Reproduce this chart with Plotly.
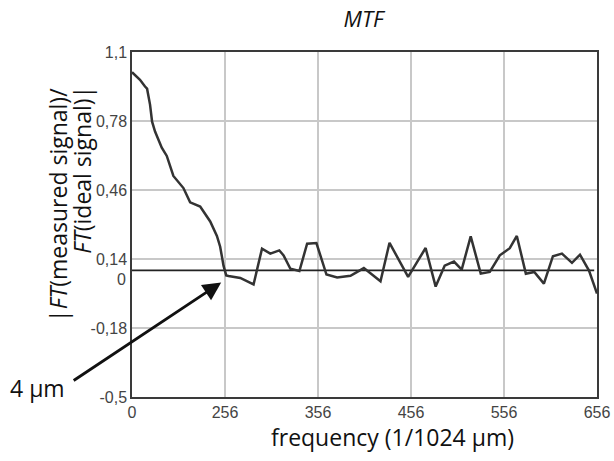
import plotly.graph_objects as go

# x positions are in tick-slot units (the axis labels are evenly spaced: 0, 256, 356, ...)
x_tick_labels = ['0', '256', '356', '456', '556', '656']
x_tick_pos = [0, 1, 2, 3, 4, 5]

y_tick_vals = [1.1, 0.78, 0.46, 0.14, -0.18, -0.5]
y_tick_text = ['1,1', '0,78', '0,46', '0,14', '-0,18', '-0,5']
zero_label_y = 0.045

freq_pos = [0.0, 0.032, 0.086, 0.140, 0.162, 0.194, 0.216, 0.248, 0.320, 0.374,
            0.445, 0.553, 0.625, 0.733, 0.841, 0.913, 0.948, 0.967, 0.984, 1.013,
            1.038, 1.164, 1.253, 1.307, 1.398, 1.487, 1.584, 1.630, 1.703, 1.800,
            1.883, 1.983, 2.091, 2.206, 2.349, 2.493, 2.672, 2.769, 2.969, 3.157,
            3.265, 3.362, 3.462, 3.545, 3.642, 3.750, 3.847, 3.955, 4.062, 4.138,
            4.235, 4.325, 4.429, 4.526, 4.623, 4.731, 4.817, 4.914, 5.0]
mtf = [1.006, 0.994, 0.971, 0.940, 0.930, 0.856, 0.777, 0.731, 0.656, 0.618,
       0.525, 0.469, 0.403, 0.383, 0.314, 0.247, 0.197, 0.151, 0.109, 0.064,
       0.061, 0.052, 0.035, 0.022, 0.188, 0.165, 0.180, 0.157, 0.095, 0.084,
       0.211, 0.214, 0.068, 0.054, 0.062, 0.098, 0.037, 0.215, 0.057, 0.191,
       0.012, 0.109, 0.128, 0.091, 0.245, 0.072, 0.080, 0.157, 0.190, 0.247,
       0.072, 0.080, 0.026, 0.153, 0.165, 0.122, 0.160, 0.086, -0.020]

baseline_x = [0, 4.97]
baseline_y = [0.0875, 0.0875]

fig = go.Figure()
fig.add_trace(go.Scatter(x=baseline_x, y=baseline_y, mode='lines',
                         line=dict(color='#222222', width=1.8), hoverinfo='skip'))
fig.add_trace(go.Scatter(x=freq_pos, y=mtf, mode='lines',
                         line=dict(color='#333333', width=2.5)))

tick_font = dict(family='Liberation Sans, Arial', size=16, color='#444444')
label_font = dict(family='Open Sans', size=23, color='#111111')

fig.update_layout(
    width=614, height=461,
    margin=dict(l=132, r=17, t=52, b=64),
    paper_bgcolor='white', plot_bgcolor='white',
    showlegend=False,
    title=dict(text='<i>MTF</i>', x=0.592, xanchor='center', y=0.958, yanchor='middle',
               font=dict(family='Open Sans', size=22, color='#111111')),
    xaxis=dict(range=[0, 5], tickvals=x_tick_pos, ticktext=x_tick_labels,
               showgrid=True, gridcolor='#c8c8c8', gridwidth=1.5,
               showline=True, linecolor='#3a3a3a', linewidth=1.5, mirror=True,
               zeroline=False, ticks='', tickfont=tick_font, automargin=False),
    yaxis=dict(range=[-0.5, 1.1], tickvals=y_tick_vals, ticktext=y_tick_text,
               showgrid=True, gridcolor='#c8c8c8', gridwidth=1.5,
               showline=True, linecolor='#3a3a3a', linewidth=1.5, mirror=True,
               zeroline=False, ticks='', tickfont=tick_font, automargin=False),
)

fig.add_annotation(text='0', xref='paper', yref='y', x=0, y=zero_label_y,
                   xanchor='right', xshift=-4, showarrow=False, font=tick_font)

fig.add_annotation(text='frequency (1/1024 \u03bcm)', xref='paper', yref='paper',
                   x=0.561, y=-0.116, xanchor='center', yanchor='middle',
                   showarrow=False, font=label_font)

# y-axis title, two rotated lines
fig.add_annotation(text='|<i>FT</i>(measured signal)/',
                   xref='paper', yref='paper', x=-0.159, y=0.557,
                   xanchor='center', yanchor='middle', textangle=-90,
                   showarrow=False, font=label_font)
fig.add_annotation(text='<i>FT</i>(ideal signal)|',
                   xref='paper', yref='paper', x=-0.108, y=0.658,
                   xanchor='center', yanchor='middle', textangle=-90,
                   showarrow=False, font=label_font)

fig.add_annotation(text='4 \u03bcm', xref='paper', yref='paper', x=-0.204, y=0.026,
                   xanchor='center', yanchor='middle', showarrow=False, font=label_font)

fig.add_annotation(text='', xref='x', yref='y', x=0.959, y=0.031,
                   ax=-149, ay=99, showarrow=True, arrowhead=2, arrowsize=1.3,
                   arrowwidth=2.8, arrowcolor='#111111')

fig.write_html('out.html', config={'displayModeBar': False},
               post_script="document.body.style.margin='0';")
